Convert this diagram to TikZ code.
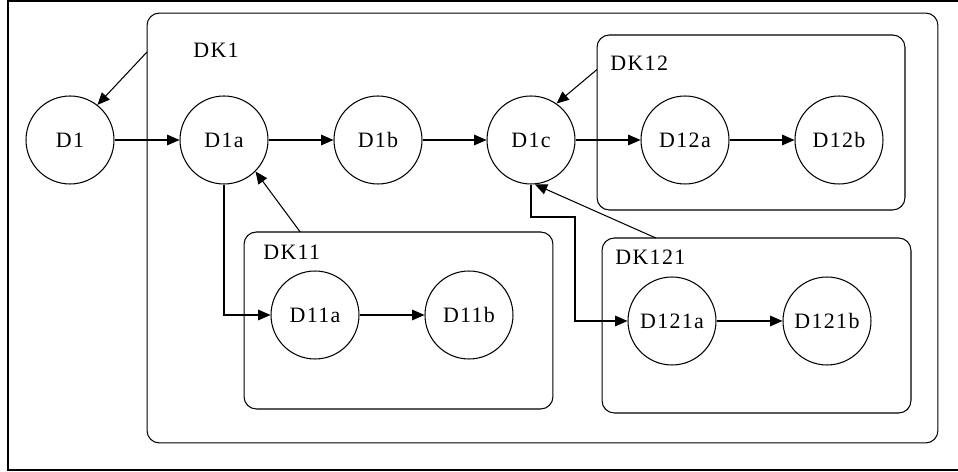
\documentclass[tikz,border=0pt]{standalone}
\usepackage{fontspec}
\setmainfont[LetterSpace=6]{Liberation Serif}
\usepackage{tikz}
\usetikzlibrary{positioning,arrows.meta}

\begin{document}
\begin{tikzpicture}[x=0.02cm, y=-0.02cm,
    font=\fontsize{12.5}{14}\selectfont,
    state/.style={circle, draw, line width=0.6pt, minimum size=1.76cm, inner sep=0pt},
    group/.style={draw, line width=0.6pt, rounded corners=7pt, inner sep=0pt, outer sep=0pt},
    tag/.style={anchor=west, inner sep=0pt},
    link/.style={line width=0.6pt, -{Triangle[length=7pt, width=6pt]}}]
    \useasboundingbox (0,0) rectangle (958,472);
    \draw[line width=1.5pt] (958,1) -- (8,1) -- (8,470) -- (958,470);

    % groups
    \node[group, minimum width=15.82cm, minimum height=8.6cm] (dk1) at (542.5,228) {};
    \node[group, minimum width=6.16cm, minimum height=3.5cm] (dk12) at (751,122.5) {};
    \node[group, minimum width=6.18cm, minimum height=3.54cm] (dk11) at (398.5,320.5) {};
    \node[group, minimum width=6.18cm, minimum height=3.5cm] (dk121) at (756.5,325.5) {};
    \node[tag] (l1) at (193,50) {DK1};
    \node[tag] (l12) at (610,63) {DK12};
    \node[tag] (l11) at (263,252) {DK11};
    \node[tag] (l121) at (615,257) {DK121};

    % states
    \node[state] (d1) at (70,140) {D1};
    \node[state] (d1a) at (224,140) {D1a};
    \node[state] (d1b) at (378,140) {D1b};
    \node[state] (d1c) at (531,140) {D1c};
    \node[state] (d12a) at (685,140) {D12a};
    \node[state] (d12b) at (839,140) {D12b};
    \node[state] (d11a) at (315,315) {D11a};
    \node[state] (d11b) at (469,315) {D11b};
    \node[state] (d121a) at (672,321) {D121a};
    \node[state] (d121b) at (827,321) {D121b};
    \coordinate (jog) at (575,217);

    \draw[link] (d1) -- (d1a);
    \draw[link] (d1a) -- (d1b);
    \draw[link] (d1b) -- (d1c);
    \draw[link] (d1c) -- (d12a);
    \draw[link] (d12a) -- (d12b);
    \draw[link] (d11a) -- (d11b);
    \draw[link] (d121a) -- (d121b);
    \draw[link] (d1a.south) |- (d11a.west);
    \draw[link] (d1c.south) |- (jog) |- (d121a.west);
    \draw[link] (dk1.156.7) -- (d1.52);
    \draw[link] (dk12.161.2) -- (d1c.55);
    \draw[link] (dk11.138.1) -- (d1a.-45);
    \draw[link] (dk121.139.8) -- (d1c.-85);
\end{tikzpicture}
\end{document}
